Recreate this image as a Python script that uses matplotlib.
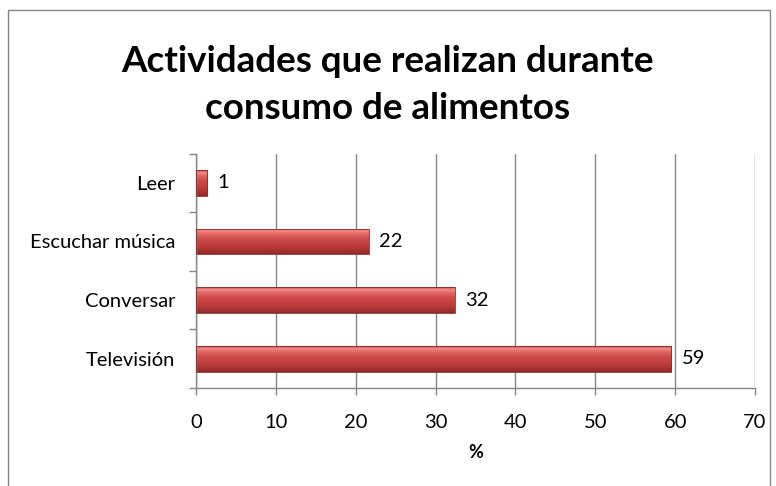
import matplotlib.pyplot as plt
import numpy as np
from matplotlib.colors import LinearSegmentedColormap
from matplotlib.patches import Rectangle

# data (bottom to top, as drawn)
categorias = ['Televisión', 'Conversar', 'Escuchar música', 'Leer']
valores = [59.5, 32.4, 21.6, 1.4]
etiquetas = ['59', '32', '22', '1']
xticks = [0, 10, 20, 30, 40, 50, 60, 70]

plt.rcParams['font.family'] = ['Lato', 'DejaVu Sans']

fig = plt.figure(figsize=(7.76, 4.86), dpi=100)
ax = fig.add_axes([0.2526, 0.2016, 0.7204, 0.4824])

gris = '#868686'

# outer chart frame
fig.patches.append(Rectangle((8 / 776, -0.05), 762 / 776, 1 - 10 / 486 + 0.05,
                             transform=fig.transFigure, fill=False,
                             edgecolor=gris, linewidth=1.0))

y = np.arange(len(categorias))
bars = ax.barh(y, valores, height=0.44, color='none', edgecolor='#8a2a28',
               linewidth=0.6, zorder=3)

# vertical gradient to mimic the shaded excel bars
cmap = LinearSegmentedColormap.from_list('rojo', [
    (0.0, '#8f2b29'), (0.25, '#b83b38'), (0.6, '#cf4c49'),
    (0.8, '#e46c69'), (0.9, '#f08c89'), (1.0, '#cc524f')])
grad = np.linspace(0, 1, 100).reshape(-1, 1)
for b in bars:
    x0, y0 = b.get_x(), b.get_y()
    w, h = b.get_width(), b.get_height()
    im = ax.imshow(grad, cmap=cmap, origin='lower', aspect='auto',
                   extent=[x0, x0 + w, y0, y0 + h], zorder=2)
    im.set_clip_path(b)

for yi, v, t in zip(y, valores, etiquetas):
    ax.text(v + 1.3, yi, t, va='center', ha='left', fontsize=14.5, color='black')

ax.set_xlim(0, 70)
ax.set_ylim(-0.5, len(categorias) - 0.5)
ax.set_xticks(xticks)
ax.set_yticks(y)
ax.set_yticklabels(categorias, fontsize=14.5)
ax.set_yticks(np.arange(-0.5, len(categorias), 1), minor=True)
ax.tick_params(axis='y', which='major', length=0, pad=15)
ax.tick_params(axis='y', which='minor', length=5, color=gris, width=1)
ax.tick_params(axis='x', length=5, color=gris, width=1, labelsize=14.5, pad=14)

ax.grid(True, axis='x', color=gris, linewidth=1, zorder=0)
ax.set_axisbelow(True)
for s in ['top', 'right']:
    ax.spines[s].set_visible(False)
for s in ['left', 'bottom']:
    ax.spines[s].set_color(gris)
    ax.spines[s].set_linewidth(1)

ax.set_xlabel('%', fontsize=13, fontweight='bold', labelpad=9)

fig.text(0.499, 1 - 85 / 486, 'Actividades que realizan durante\nconsumo de alimentos',
         ha='center', va='center', fontsize=26.5, fontweight='bold',
         linespacing=1.5)

fig.savefig('out.png', dpi=100)
